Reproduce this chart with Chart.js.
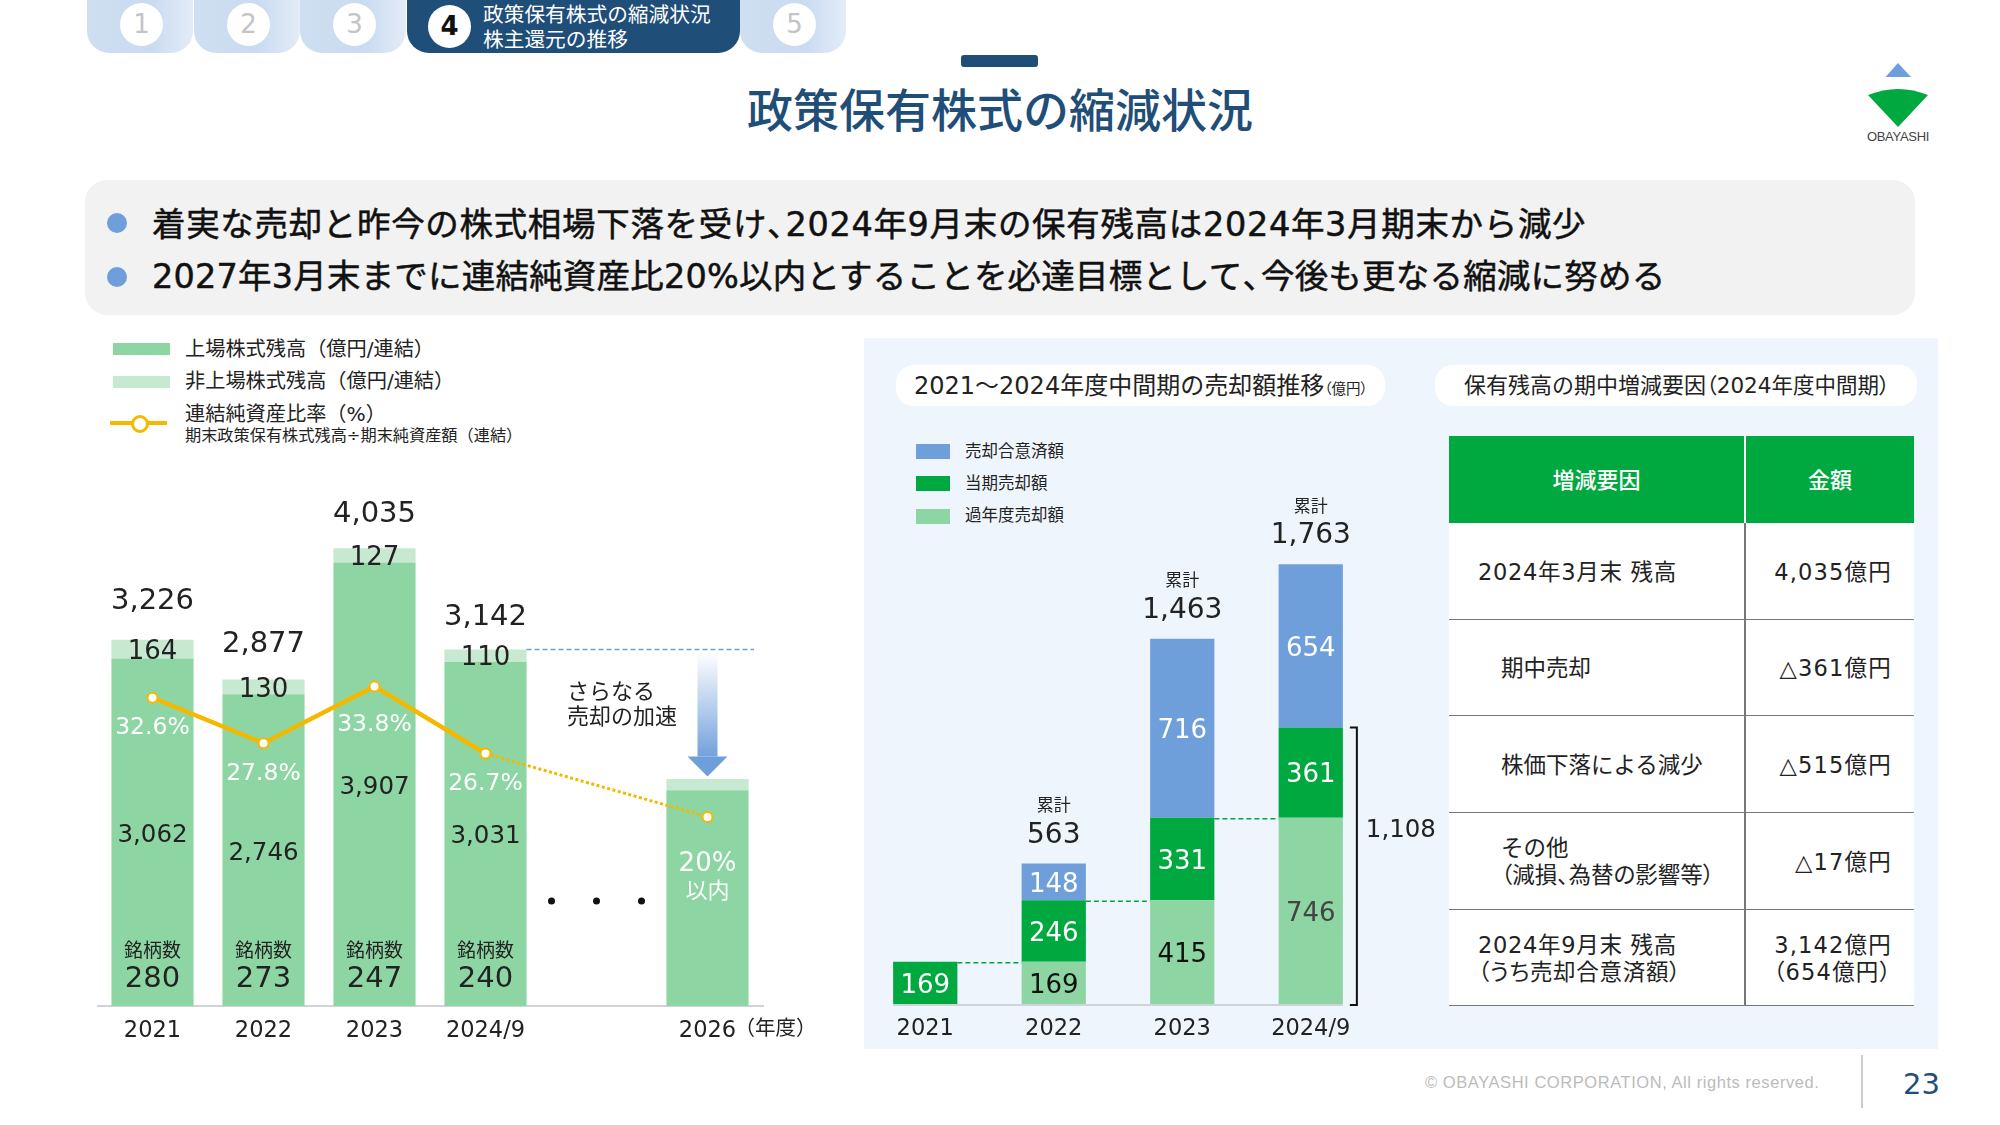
<!DOCTYPE html>
<html lang="ja">
<head>
<meta charset="utf-8">
<title>政策保有株式の縮減状況</title>
<script src="https://cdn.jsdelivr.net/npm/chart.js@4/dist/chart.umd.min.js"></script>
<style>
    html, body { margin: 0; padding: 0; background: #fff; }
    body { width: 2000px; height: 1125px; position: relative; overflow: hidden;
           font-family: "DejaVu Sans", "Noto Sans CJK JP", sans-serif; color: #222; }
    .abs { position: absolute; white-space: nowrap; }
    canvas { position: absolute; }
    .tab { position: absolute; top: 0; height: 53px; width: 106px; border-radius: 0 0 22px 22px;
           background: linear-gradient(to right, #cfdff1, #c9dbf0 60%, #e3ecf8); }
    .tab i { position: absolute; left: 33px; top: 3px; width: 43px; height: 43px; border-radius: 50%;
             background: #fff; color: #c4c4c4; font: 26px/43px "DejaVu Sans"; text-align: center; }
    .swatch { position: absolute; }
    th, td { padding: 2px 0 0; font-weight: 400; }
    table { position: absolute; left: 1449px; top: 436px; width: 465px; border-collapse: collapse;
            table-layout: fixed; background: #fff; font-size: 22.5px; line-height: 27px; }
    th { background: #00a840; color: #fff; height: 85px; font-weight: 500; font-size: 22px; }
    th + th { border-left: 2px solid #fff; }
    td { border-bottom: 1px solid #777; height: 94px; white-space: nowrap; }
    td + td { border-left: 2px solid #777; text-align: right; padding-right: 22px; letter-spacing: 1.2px; }
    td.a { padding-left: 29px; letter-spacing: .7px; }
    td.b { padding-left: 52px; }
    .tight { font-feature-settings: "palt"; }
    .lead { left: 152px; font-size: 33.5px; line-height: 48px; color: #111; -webkit-text-stroke: .5px #111; }
    .lead b { font-weight: 400; letter-spacing: -.45em; }
</style>
</head>
<body>
<div class="tab" style="left:87px"><i>1</i></div>
<div class="tab" style="left:194px"><i>2</i></div>
<div class="tab" style="left:300px"><i>3</i></div>
<div class="abs" style="left:407px;top:0;width:333px;height:53px;background:#1f4e79;border-radius:0 0 22px 22px"></div>
<div class="abs" style="left:428px;top:5px;width:43px;height:43px;border-radius:50%;background:#fff;text-align:center;font:700 26px/43px 'DejaVu Sans';color:#111">4</div>
<div class="abs" style="left:483px;top:3px;color:#fff;font-size:20.7px;line-height:24.5px">政策保有株式の縮減状況<br>株主還元の推移</div>
<div class="tab" style="left:740px"><i>5</i></div>

<div class="abs" style="left:961px;top:55px;width:77px;height:12px;background:#1f4e79;border-radius:3px"></div>
<div class="abs" style="left:0;width:2000px;top:79px;text-align:center;font-size:46px;line-height:64px;font-weight:500;color:#1f4e79">政策保有株式の縮減状況</div>

<svg class="abs" style="left:1848px;top:50px" width="110" height="100">
    <polygon points="50,13 37.5,27 63,27" fill="#6f9fdb"/>
    <path d="M20,45 Q50,33 80,45 L50,77 Z" fill="#00a840"/>
    <text x="50" y="91" text-anchor="middle" font-family="Liberation Sans" font-size="13" letter-spacing="-.3" fill="#444">OBAYASHI</text>
</svg>

<div class="abs" style="left:85px;top:180px;width:1830px;height:135px;background:#f2f2f2;border-radius:22px"></div>
<div class="abs" style="left:107px;top:213px;width:20px;height:20px;border-radius:50%;background:#6f9fdb"></div>
<div class="abs" style="left:107px;top:267px;width:20px;height:20px;border-radius:50%;background:#6f9fdb"></div>
<div class="abs lead" style="top:201px;letter-spacing:.67px">着実な売却と昨今の株式相場下落を受け<b>、</b>2024年9月末の保有残高は2024年3月期末から減少</div>
<div class="abs lead" style="top:253px;letter-spacing:.2px">2027年3月末までに連結純資産比20%以内とすることを必達目標として<b>、</b>今後も更なる縮減に努める</div>

<!-- 左グラフの凡例 -->
<div class="swatch" style="left:113px;top:343px;width:57px;height:12px;background:#8dd6a3"></div>
<div class="swatch" style="left:113px;top:376px;width:57px;height:12px;background:#c6e9d0"></div>
<div class="swatch" style="left:110px;top:421px;width:57px;height:4px;background:#f5b800"></div>
<div class="swatch" style="left:131px;top:415px;width:12px;height:12px;border:3px solid #f5b800;border-radius:50%;background:#fff"></div>
<div class="abs" style="left:185px;top:335px;font-size:20.2px;line-height:29px">上場株式残高（億円/連結）</div>
<div class="abs" style="left:185px;top:367px;font-size:20.2px;line-height:29px">非上場株式残高（億円/連結）</div>
<div class="abs" style="left:185px;top:400px;font-size:20.2px;line-height:28px">連結純資産比率（%）</div>
<div class="abs" style="left:185px;top:425px;font-size:16.2px;line-height:22px">期末政策保有株式残高÷期末純資産額（連結）</div>

<!-- 右パネル -->
<div class="abs" style="left:864px;top:338px;width:1074px;height:711px;background:#eff5fc"></div>
<div class="abs" style="left:896px;top:365px;width:489px;height:41px;border-radius:18px;background:#fff"></div>
<div class="abs" style="left:1435px;top:365px;width:482px;height:41px;border-radius:18px;background:#fff"></div>
<div class="abs" style="left:914px;top:366px;font-size:24px;line-height:40px">2021～2024年度中間期の売却額推移<span class="tight" style="font-size:14.5px">（億円）</span></div>
<div class="abs" style="left:1464px;top:366px;font-size:22px;line-height:40px">保有残高の期中増減要因<span class="tight" style="font-size:21.5px">（2024年度中間期）</span></div>
<div class="swatch" style="left:916px;top:444px;width:34px;height:15px;background:#6f9fdb"></div>
<div class="swatch" style="left:916px;top:476px;width:34px;height:15px;background:#00a840"></div>
<div class="swatch" style="left:916px;top:509px;width:34px;height:15px;background:#8dd6a3"></div>
<div class="abs" style="left:965px;top:440px;font-size:16.5px;line-height:24px">売却合意済額</div>
<div class="abs" style="left:965px;top:472px;font-size:16.5px;line-height:24px">当期売却額</div>
<div class="abs" style="left:965px;top:504px;font-size:16.5px;line-height:24px">過年度売却額</div>

<canvas id="holdingChart" style="left:97px;top:468px"></canvas>
<canvas id="saleChart" style="left:861px;top:476px"></canvas>

<table>
    <colgroup><col style="width:296px"><col></colgroup>
    <tr><th>増減要因</th><th>金額</th></tr>
    <tr><td class="a">2024年3月末 残高</td><td>4,035億円</td></tr>
    <tr><td class="b" style="height:93px">期中売却</td><td style="height:93px">△361億円</td></tr>
    <tr><td class="b">株価下落による減少</td><td>△515億円</td></tr>
    <tr><td class="b">その他<br><span class="tight">（減損、為替の影響等）</span></td><td>△17億円</td></tr>
    <tr><td class="a" style="height:93px">2024年9月末 残高<br><span class="tight">（うち売却合意済額）</span></td><td class="tight" style="height:93px">3,142億円<br>（654億円）</td></tr>
</table>

<div class="abs" style="left:1425px;top:1071px;font:16.5px/22px 'Liberation Sans';color:#bbb;letter-spacing:.56px">© OBAYASHI CORPORATION, All rights reserved.</div>
<div class="abs" style="left:1861px;top:1055px;width:2px;height:53px;background:#ccc"></div>
<div class="abs" style="left:1903px;top:1066px;font-size:29px;line-height:36px;color:#1f4e79">23</div>

<script>
// Left chart data
const holdingYears = ['2021', '2022', '2023', '2024/9', '', '2026'];
const listedBalance = [3062, 2746, 3907, 3031, null, 1900];
const unlistedBalance = [164, 130, 127, 110, null, 100];
const holdingTotals = ['3,226', '2,877', '4,035', '3,142'];
const netAssetRatio = [32.6, 27.8, 33.8, 26.7, null, null];
const ratioTarget = [null, null, null, 26.7, null, 20];
const ratioLabels = ['32.6%', '27.8%', '33.8%', '26.7%'];
const stockCounts = ['280', '273', '247', '240'];

// Right chart data
const saleYears = ['2021', '2022', '2023', '2024/9'];
const priorSales = [null, 169, 415, 746];
const currentSales = [169, 246, 331, 361];
const agreedSales = [null, 148, 716, 654];
const saleTotals = [null, '563', '1,463', '1,763'];

const FONT = '"DejaVu Sans", "Noto Sans CJK JP", sans-serif';
const TEXT_COLOR = '#222';
const LINE_COLOR = '#f5b800';
const BLUE = '#6f9fdb';
const GREEN = '#00a840';
const LIGHT_GREEN = '#8dd6a3';
const PALE_GREEN = '#c6e9d0';

function text(ctx, str, x, y, size, color, align) {
    ctx.font = size + 'px ' + FONT;
    ctx.fillStyle = color || TEXT_COLOR;
    ctx.textAlign = align || 'center';
    ctx.textBaseline = 'middle';
    ctx.fillText(str, x, y);
}

function fmt(n) {
    return n.toLocaleString('en-US');
}

const holdingLabels = {
    id: 'holdingLabels',
    afterDatasetsDraw(chart) {
        const ctx = chart.ctx;
        const xs = chart.scales.x;
        const ys = chart.scales.y;
        const ratioY = chart.scales.y1;
        const bottom = chart.chartArea.bottom;
        const labelDrop = 3;
        ctx.save();

        // hand-placed gaps, these labels are not evenly spaced in the slide
        const ratioOffset = [30.5, 30.5, 38, 30.5];
        const totalOffset = [38, 35.5, 34, 32];
        holdingTotals.forEach((label, i) => {
            const x = xs.getPixelForValue(i);
            const listed = listedBalance[i];
            const unlisted = unlistedBalance[i];
            const top = ys.getPixelForValue(listed + unlisted);
            text(ctx, label, x, top - totalOffset[i], 29);
            text(ctx, fmt(unlisted), x, ys.getPixelForValue(listed + unlisted / 2) + labelDrop, 26);
            text(ctx, fmt(listed), x, ys.getPixelForValue(listed / 2) + labelDrop, 24.5);
            text(ctx, ratioLabels[i], x, ratioY.getPixelForValue(netAssetRatio[i]) + ratioOffset[i], 23.5, '#fff');
            text(ctx, '銘柄数', x, bottom - 54, 19);
            text(ctx, stockCounts[i], x, bottom - 27, 29);
        });

        // 2026 target text
        const targetX = xs.getPixelForValue(5);
        text(ctx, '20%', targetX, bottom - 142, 26, '#fff');
        text(ctx, '以内', targetX, bottom - 114, 22, '#fff');
        text(ctx, '（年度）', targetX + 27, bottom + 24, 20.5, TEXT_COLOR, 'left');

        // the three dots between 2024/9 and 2026
        const gapX = xs.getPixelForValue(4);
        ctx.fillStyle = '#111';
        [-45, 0, 45].forEach(dx => {
            ctx.beginPath();
            ctx.arc(gapX + dx, bottom - 105, 3.5, 0, Math.PI * 2);
            ctx.fill();
        });

        text(ctx, 'さらなる', 470, bottom - 313, 22, TEXT_COLOR, 'left');
        text(ctx, '売却の加速', 470, bottom - 288, 22, TEXT_COLOR, 'left');

        // dashed reference line from the 2024/9 total
        const refY = ys.getPixelForValue(listedBalance[3] + unlistedBalance[3]);
        ctx.strokeStyle = BLUE;
        ctx.lineWidth = 1.5;
        ctx.setLineDash([5, 3]);
        ctx.beginPath();
        ctx.moveTo(xs.getPixelForValue(3) + 41, refY);
        ctx.lineTo(chart.chartArea.right - 9, refY);
        ctx.stroke();
        ctx.setLineDash([]);

        // down arrow
        const g = ctx.createLinearGradient(0, refY + 3, 0, refY + 110);
        g.addColorStop(0, 'rgba(111,159,219,0)');
        g.addColorStop(1, BLUE);
        ctx.fillStyle = g;
        ctx.fillRect(targetX - 10, refY + 3, 20, 104);
        ctx.fillStyle = BLUE;
        ctx.beginPath();
        ctx.moveTo(targetX - 20, refY + 107);
        ctx.lineTo(targetX + 20, refY + 107);
        ctx.lineTo(targetX, refY + 127);
        ctx.closePath();
        ctx.fill();

        ctx.restore();
    }
};

const saleLabels = {
    id: 'saleLabels',
    afterDatasetsDraw(chart) {
        const ctx = chart.ctx;
        const xs = chart.scales.x;
        const ys = chart.scales.y;
        const halfBar = chart.getDatasetMeta(0).data[1].width / 2;
        const labelDrop = 3;
        ctx.save();

        // axis line only runs under the bars
        ctx.strokeStyle = '#d0d4d8';
        ctx.lineWidth = 2;
        ctx.beginPath();
        ctx.moveTo(xs.getPixelForValue(0) - halfBar, chart.chartArea.bottom + 1);
        ctx.lineTo(xs.getPixelForValue(3) + halfBar, chart.chartArea.bottom + 1);
        ctx.stroke();

        saleYears.forEach((year, i) => {
            const x = xs.getPixelForValue(i);
            const prior = priorSales[i] || 0;
            const current = currentSales[i];
            const agreed = agreedSales[i] || 0;
            if (prior) {
                text(ctx, fmt(prior), x, ys.getPixelForValue(prior / 2) + labelDrop, 26, i === 3 ? '#444' : '#111');
            }
            text(ctx, fmt(current), x, ys.getPixelForValue(prior + current / 2) + labelDrop, 26, '#fff');
            if (agreed) {
                text(ctx, fmt(agreed), x, ys.getPixelForValue(prior + current + agreed / 2) + labelDrop, 26, '#fff');
            }
            if (saleTotals[i]) {
                const top = ys.getPixelForValue(prior + current + agreed);
                text(ctx, '累計', x, top - 57, 17);
                text(ctx, saleTotals[i], x, top - 28, 28);
            }
            // dashed green link to the next year's prior-sales block
            if (i < 3) {
                const y = ys.getPixelForValue(priorSales[i + 1]) + 1;
                ctx.strokeStyle = GREEN;
                ctx.lineWidth = 1.5;
                ctx.setLineDash([5, 3]);
                ctx.beginPath();
                ctx.moveTo(x + halfBar, y);
                ctx.lineTo(xs.getPixelForValue(i + 1) - halfBar, y);
                ctx.stroke();
                ctx.setLineDash([]);
            }
        });

        // bracket around the 2024/9 sold amount
        const last = 3;
        const bx = xs.getPixelForValue(last) + halfBar + 14;
        const bracketTop = ys.getPixelForValue(priorSales[last] + currentSales[last]);
        const bracketBottom = chart.chartArea.bottom + 1;
        ctx.strokeStyle = '#111';
        ctx.lineWidth = 2;
        ctx.beginPath();
        ctx.moveTo(bx - 7, bracketTop);
        ctx.lineTo(bx, bracketTop);
        ctx.lineTo(bx, bracketBottom);
        ctx.lineTo(bx - 7, bracketBottom);
        ctx.stroke();
        text(ctx, '1,108', bx + 44, (bracketTop + bracketBottom) / 2 - 36, 24.5);

        ctx.restore();
    }
};

function xAxis(fontSize, showLine) {
    return {
        stacked: true,
        grid: { display: false, drawTicks: false },
        border: { display: showLine, color: '#d0d4d8', width: 2 },
        ticks: { color: TEXT_COLOR, padding: 12, font: { family: FONT, size: fontSize }, maxRotation: 0, autoSkip: false },
        afterFit(scale) {
            scale.height = 42;
            scale.paddingLeft = 0;
            scale.paddingRight = 0;
        }
    };
}

const holdingCanvas = document.getElementById('holdingChart');
holdingCanvas.width = 726;
holdingCanvas.height = 580;
new Chart(holdingCanvas, {
    data: {
        labels: holdingYears,
        datasets: [
            { type: 'line', label: '連結純資産比率(%)', data: netAssetRatio, yAxisID: 'y1', order: 0,
              borderColor: LINE_COLOR, borderWidth: 4.5, pointRadius: 5, pointBorderWidth: 2,
              pointBackgroundColor: '#fff', pointBorderColor: LINE_COLOR },
            { type: 'line', label: '目標', data: ratioTarget, yAxisID: 'y1', order: 1, spanGaps: true,
              borderColor: LINE_COLOR, borderWidth: 3, borderDash: [3, 2.5], pointRadius: 5, pointBorderWidth: 2,
              pointBackgroundColor: '#fff', pointBorderColor: LINE_COLOR },
            { type: 'bar', label: '上場株式残高', data: listedBalance, backgroundColor: LIGHT_GREEN, stack: 'a', order: 2,
              barPercentage: 0.74, categoryPercentage: 1 },
            { type: 'bar', label: '非上場株式残高', data: unlistedBalance, backgroundColor: PALE_GREEN, stack: 'a', order: 2,
              barPercentage: 0.74, categoryPercentage: 1 }
        ]
    },
    options: {
        responsive: false,
        animation: false,
        // the line points would otherwise inset the chart area
        layout: { autoPadding: false, padding: { left: 0, right: 60, top: 0, bottom: 0 } },
        plugins: { legend: { display: false }, tooltip: { enabled: false } },
        scales: {
            x: xAxis(22.5, true),
            y: { stacked: true, display: false, min: 0, max: 4740 },
            y1: { display: false, min: 0, max: 56.9 }
        }
    },
    plugins: [holdingLabels]
});

const saleCanvas = document.getElementById('saleChart');
saleCanvas.width = 584;
saleCanvas.height = 570;
new Chart(saleCanvas, {
    type: 'bar',
    data: {
        labels: saleYears,
        datasets: [
            { label: '過年度売却額', data: priorSales, backgroundColor: LIGHT_GREEN },
            { label: '当期売却額', data: currentSales, backgroundColor: GREEN },
            { label: '売却合意済額', data: agreedSales, backgroundColor: BLUE }
        ]
    },
    options: {
        responsive: false,
        animation: false,
        barPercentage: 0.5,
        categoryPercentage: 1,
        layout: { padding: { left: 0, right: 70, top: 0, bottom: 0 } },
        plugins: { legend: { display: false }, tooltip: { enabled: false } },
        scales: {
            x: xAxis(22.5, false),
            y: { stacked: true, display: false, min: 0, max: 2114 }
        }
    },
    plugins: [saleLabels]
});
</script>
</body>
</html>
